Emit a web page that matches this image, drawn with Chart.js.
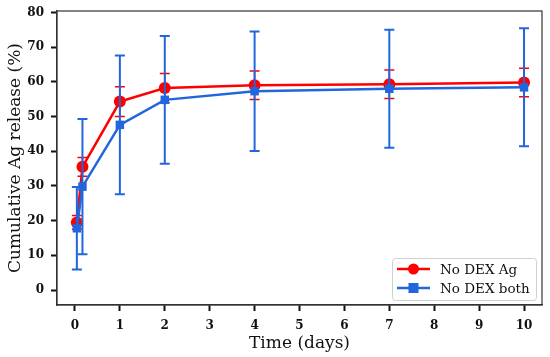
<!DOCTYPE html>
<html>
<head>
<meta charset="utf-8">
<script src="https://cdn.jsdelivr.net/npm/chart.js@4"></script>
<style>
  html, body { margin: 0; padding: 0; background: #fff; }
  #wrap { width: 550px; height: 357px; }
</style>
</head>
<body>
<div id="wrap"><canvas id="releaseChart" width="550" height="357"></canvas></div>
<script>
// sampling times (days)
const timeDays = [0.042, 0.167, 1, 2, 4, 7, 10];

// cumulative Ag release (%) and std dev
const noDexAg = [19.5, 35.5, 54.3, 58.2, 59.0, 59.3, 59.8];
const noDexAgErr = [2.0, 2.7, 4.3, 4.2, 4.1, 4.1, 4.1];

const noDexBoth = [17.8, 29.8, 47.6, 54.8, 57.3, 58.0, 58.4];
const noDexBothErr = [11.9, 19.5, 20.0, 18.4, 17.2, 17.0, 17.0];

const xTicks = [0, 1, 2, 3, 4, 5, 6, 7, 8, 9, 10];
const yTicks = [0, 10, 20, 30, 40, 50, 60, 70, 80];

const RED = "#ff0000";
const BLUE = "#2166dd";
const FONT = "'DejaVu Serif', 'Liberation Serif', serif";

function toPoints(xs, ys) {
  return xs.map((x, i) => ({ x: x, y: ys[i] }));
}

// box around the whole plot area (matplotlib style spines)
const framePlugin = {
  id: "frame",
  beforeDatasetsDraw(chart) {
    const a = chart.chartArea;
    const ctx = chart.ctx;
    ctx.save();
    ctx.strokeStyle = "#333";
    ctx.lineWidth = 1.2;
    ctx.strokeRect(a.left, a.top, a.right - a.left, a.bottom - a.top);
    ctx.restore();
  }
};

// vertical error bars with caps, drawn just before each dataset
const errorBarPlugin = {
  id: "errorBars",
  beforeDatasetDraw(chart, args) {
    const ds = chart.data.datasets[args.index];
    if (!ds.errors) return;
    const xs = chart.scales.x;
    const ys = chart.scales.y;
    const ctx = chart.ctx;
    ctx.save();
    ctx.strokeStyle = ds.borderColor;
    ctx.lineWidth = ds.errorWidth || 1.5;
    ds.data.forEach((p, i) => {
      const e = ds.errors[i];
      const px = xs.getPixelForValue(p.x);
      const top = ys.getPixelForValue(p.y + e);
      const bot = ys.getPixelForValue(p.y - e);
      const cap = 5;
      ctx.beginPath();
      ctx.moveTo(px, top);
      ctx.lineTo(px, bot);
      ctx.moveTo(px - cap, top);
      ctx.lineTo(px + cap, top);
      ctx.moveTo(px - cap, bot);
      ctx.lineTo(px + cap, bot);
      ctx.stroke();
    });
    ctx.restore();
  }
};

// legend in the lower right corner, line + marker like matplotlib
const cornerLegend = {
  id: "cornerLegend",
  afterDraw(chart) {
    const ctx = chart.ctx;
    const a = chart.chartArea;
    const w = 144, h = 42;
    const x0 = a.right - 6 - w;
    const y0 = a.bottom - 5 - h;
    ctx.save();
    ctx.fillStyle = "rgba(255,255,255,0.85)";
    ctx.strokeStyle = "#d0d0d0";
    ctx.lineWidth = 1;
    ctx.beginPath();
    ctx.roundRect(x0 + 0.5, y0 + 0.5, w, h, 3);
    ctx.fill();
    ctx.stroke();

    const order = [1, 0]; // red first, then blue
    order.forEach((di, row) => {
      const ds = chart.data.datasets[di];
      const cy = y0 + 11 + row * 19;
      const lx = x0 + 5;
      ctx.strokeStyle = ds.borderColor;
      ctx.fillStyle = ds.borderColor;
      ctx.lineWidth = 2.5;
      ctx.beginPath();
      ctx.moveTo(lx, cy);
      ctx.lineTo(lx + 33, cy);
      ctx.stroke();
      const mx = lx + 16.5;
      if (ds.pointStyle === "rect") {
        ctx.fillRect(mx - 5, cy - 5, 10, 10);
      } else {
        ctx.beginPath();
        ctx.arc(mx, cy, 5.5, 0, Math.PI * 2);
        ctx.fill();
      }
      ctx.fillStyle = "#111";
      ctx.font = "13.5px " + FONT;
      ctx.textBaseline = "middle";
      ctx.fillText(ds.label, lx + 43, cy + 1);
    });
    ctx.restore();
  }
};

function drawChart() {
  const ctx = document.getElementById("releaseChart").getContext("2d");
  new Chart(ctx, {
    type: "line",
    data: {
      datasets: [
        {
          label: "No DEX both",
          data: toPoints(timeDays, noDexBoth),
          errors: noDexBothErr,
          errorWidth: 2,
          borderColor: BLUE,
          backgroundColor: BLUE,
          borderWidth: 2.5,
          pointStyle: "rect",
          pointRadius: 6,
          pointBorderWidth: 0,
          tension: 0,
          order: 1
        },
        {
          label: "No DEX Ag",
          data: toPoints(timeDays, noDexAg),
          errors: noDexAgErr,
          errorWidth: 1.5,
          borderColor: RED,
          backgroundColor: RED,
          borderWidth: 2.5,
          pointStyle: "circle",
          pointRadius: 6,
          pointBorderWidth: 0,
          tension: 0,
          order: 2
        }
      ]
    },
    options: {
      responsive: false,
      animation: false,
      layout: { padding: { top: 11, right: 8, left: 0, bottom: 0 } },
      plugins: {
        legend: { display: false },
        tooltip: { enabled: false }
      },
      scales: {
        x: {
          type: "linear",
          min: -0.4,
          max: 10.4,
          afterBuildTicks(scale) { scale.ticks = xTicks.map(v => ({ value: v })); },
          afterFit(scale) { scale.height = 52; },
          grid: { drawOnChartArea: false, tickLength: 6, tickWidth: 2, tickColor: "#111" },
          border: { color: "#333", width: 1.2 },
          ticks: { color: "#111", padding: 8, maxRotation: 0, font: { family: FONT, size: 12, weight: "bold" } },
          title: {
            display: true,
            text: "Time (days)",
            color: "#111",
            padding: { top: 0, bottom: 5 },
            font: { family: FONT, size: 17, weight: "normal", lineHeight: 1.0 }
          }
        },
        y: {
          min: -4.3,
          max: 80.4,
          afterBuildTicks(scale) { scale.ticks = yTicks.map(v => ({ value: v })); },
          afterFit(scale) {
            scale.width = 57;
            // the tick label overhang should not push the plot area down
            scale.paddingTop = 0;
            scale.paddingBottom = 0;
          },
          grid: { drawOnChartArea: false, tickLength: 6, tickWidth: 2, tickColor: "#111" },
          border: { color: "#333", width: 1.2 },
          ticks: { color: "#111", padding: 7, font: { family: FONT, size: 12, weight: "bold" } },
          title: {
            display: true,
            text: "Cumulative Ag release (%)",
            color: "#111",
            padding: { top: 5, bottom: 0 },
            font: { family: FONT, size: 17, weight: "normal" }
          }
        }
      }
    },
    plugins: [framePlugin, errorBarPlugin, cornerLegend]
  });
}

document.addEventListener("DOMContentLoaded", () => {
  drawChart();
});
</script>
</body>
</html>
